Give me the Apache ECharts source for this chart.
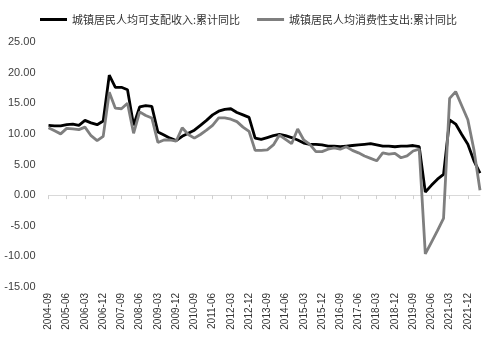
<!DOCTYPE html>
<html>
<head>
<meta charset="utf-8">
<script src="https://cdn.jsdelivr.net/npm/echarts@6/dist/echarts.min.js"></script>
<style>
  html, body { margin: 0; padding: 0; background: #fff; }
  #chart { width: 487px; height: 344px; }
</style>
</head>
<body>
<div id="chart"></div>
<script>
// Quarterly periods (cumulative year-on-year, %)
var quarters = [
  '2004-09','2004-12',
  '2005-03','2005-06','2005-09','2005-12',
  '2006-03','2006-06','2006-09','2006-12',
  '2007-03','2007-06','2007-09','2007-12',
  '2008-03','2008-06','2008-09','2008-12',
  '2009-03','2009-06','2009-09','2009-12',
  '2010-03','2010-06','2010-09','2010-12',
  '2011-03','2011-06','2011-09','2011-12',
  '2012-03','2012-06','2012-09','2012-12',
  '2013-03','2013-06','2013-09','2013-12',
  '2014-03','2014-06','2014-09','2014-12',
  '2015-03','2015-06','2015-09','2015-12',
  '2016-03','2016-06','2016-09','2016-12',
  '2017-03','2017-06','2017-09','2017-12',
  '2018-03','2018-06','2018-09','2018-12',
  '2019-03','2019-06','2019-09','2019-12',
  '2020-03','2020-06','2020-09','2020-12',
  '2021-03','2021-06','2021-09','2021-12',
  '2022-03','2022-06'
];

// 城镇居民人均可支配收入:累计同比
var incomeYoY = [
  11.4, 11.3,
  11.3, 11.5, 11.6, 11.4,
  12.2, 11.8, 11.5, 12.1,
  19.6, 17.6, 17.6, 17.2,
  11.4, 14.4, 14.6, 14.5,
  10.3, 9.8, 9.3, 8.9,
  9.6, 10.1, 10.6, 11.4,
  12.2, 13.1, 13.7, 14.0,
  14.1, 13.5, 13.1, 12.7,
  9.3, 9.1, 9.4, 9.7,
  9.9, 9.7, 9.4, 9.0,
  8.5, 8.3, 8.3, 8.2,
  8.0, 8.0, 7.9, 8.0,
  8.1, 8.2, 8.3, 8.4,
  8.2, 8.0, 8.0, 7.9,
  8.0, 8.0, 8.1, 7.9,
  0.5, 1.6, 2.6, 3.4,
  12.3, 11.6, 9.9, 8.3,
  5.6, 3.6
];

// 城镇居民人均消费性支出:累计同比
var spendingYoY = [
  11.0, 10.5,
  10.0, 10.9, 10.8, 10.7,
  11.1, 9.7, 8.9, 9.6,
  16.8, 14.2, 14.1, 15.0,
  10.1, 13.6, 13.0, 12.6,
  8.6, 9.0, 9.0, 8.8,
  11.0, 9.9, 9.3, 9.9,
  10.6, 11.4, 12.6, 12.6,
  12.4, 12.0, 11.1, 10.4,
  7.3, 7.3, 7.4, 8.2,
  9.8, 9.1, 8.4, 10.8,
  9.0, 8.3, 7.1, 7.1,
  7.5, 7.7, 7.5, 7.9,
  7.3, 6.9, 6.4, 6.0,
  5.6, 6.9, 6.7, 6.8,
  6.1, 6.4, 7.2, 7.5,
  -9.6, -7.7, -5.8, -3.8,
  15.8, 16.9, 14.6, 12.3,
  7.4, 0.8
];

var seriesNames = ['城镇居民人均可支配收入:累计同比', '城镇居民人均消费性支出:累计同比'];
var yTicks = { min: -15, max: 25, step: 5 };

var chart = echarts.init(document.getElementById('chart'), null, { renderer: 'canvas' });

var labelFont = '"Liberation Sans", Arial, sans-serif';

chart.setOption({
  animation: false,
  backgroundColor: '#ffffff',
  legend: {
    top: 9,
    left: 35,
    itemGap: 17,
    itemWidth: 27,
    itemHeight: 3,
    icon: 'rect',
    textStyle: {
      fontFamily: '"Noto Sans CJK SC", sans-serif',
      fontSize: 11,
      color: '#333333'
    },
    data: seriesNames
  },
  grid: {
    left: 48.5,
    right: 7,
    top: 42,
    bottom: 57,
    containLabel: false
  },
  xAxis: [
    {
      // labels along the bottom
      type: 'category',
      data: quarters,
      boundaryGap: false,
      position: 'bottom',
      axisLine: { show: false, onZero: false },
      axisTick: { show: false },
      splitLine: { show: false },
      axisLabel: {
        interval: 2,
        rotate: 90,
        margin: 6,
        fontSize: 10,
        fontFamily: labelFont,
        color: '#333333'
      }
    },
    {
      // axis line with ticks running along zero
      type: 'category',
      data: quarters,
      boundaryGap: false,
      position: 'bottom',
      axisLine: { show: true, onZero: true, lineStyle: { color: '#d9d9d9', width: 1 } },
      axisTick: { show: true, interval: 2, length: 4, lineStyle: { color: '#d0d0d0' } },
      axisLabel: { show: false },
      splitLine: { show: false }
    }
  ],
  yAxis: {
    type: 'value',
    min: yTicks.min,
    max: yTicks.max,
    interval: yTicks.step,
    axisLine: { show: false },
    axisTick: { show: false },
    splitLine: { show: false },
    axisLabel: {
      margin: 13,
      fontSize: 11,
      fontFamily: labelFont,
      color: '#404040',
      formatter: function (v) { return v.toFixed(2); }
    }
  },
  series: [
    {
      name: seriesNames[0],
      type: 'line',
      xAxisIndex: 0,
      data: incomeYoY,
      symbol: 'none',
      smooth: false,
      color: '#000000',
      lineStyle: { color: '#000000', width: 2.8 }
    },
    {
      name: seriesNames[1],
      type: 'line',
      xAxisIndex: 0,
      data: spendingYoY,
      symbol: 'none',
      smooth: false,
      color: '#7f7f7f',
      lineStyle: { color: '#7f7f7f', width: 2.8 }
    }
  ]
});
</script>
</body>
</html>
